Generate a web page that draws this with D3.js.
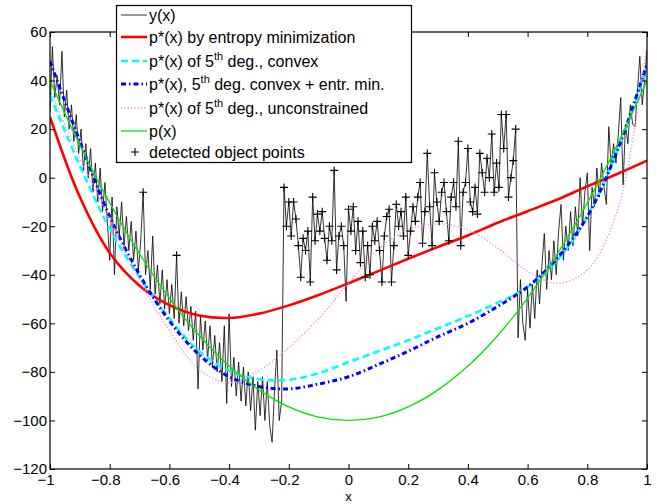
<!DOCTYPE html>
<html lang="en">
<head>
<meta charset="UTF-8">
<title>p*(x) fits of y(x)</title>
<script src="https://d3js.org/d3.v7.min.js"></script>
<style>
  body { margin: 0; background: #fff; }
  svg { display: block; font-family: "Liberation Sans", Arial, Helvetica, sans-serif; }
  .tick text { font-size: 15px; fill: #000; }
  .tick line { stroke: #000; }
</style>
</head>
<body>
<div id="chart"></div>
<script>
// measured signal y(x), sampled every 0.008 from x = -1
const sampleStart = -1;
const sampleStep = 0.008;
const signalY = [
  27, 54, 33, 42, 30, 52, 25, 36, 20, 30,
  15, 26, 10, 20, 3, 14, 0, 12, -6, 6,
  -10, 4, -14, -2, -18, -34, -8, -40, -12, -24,
  -10, -28, -16, -30, -18, -34, -22, -38, -26, -6,
  -40, -30, -46, -24, -48, -36, -52, -38, -54, -42,
  -56, -44, -58, -32, -60, -47, -61, -49, -63, -53,
  -67, -55, -87, -57, -71, -59, -75, -61, -78, -65,
  -80, -68, -84, -61, -93, -56, -86, -74, -90, -76,
  -92, -78, -94, -80, -96, -82, -104, -84, -98, -82,
  -100, -84, -102, -109, -88, -71, -100, -92,
  // object region
  -4, -20, -10, -24, -10, -17, -28, -41, -25, -30,
  -22, -43, -8, -26, -15, -22, -14, -25, -34, -20,
  -26, 3, -38, -24, -20, -28, -51, -13, -22, -12,
  -30, -18, -35, -22, -41, -28, -40, -20, -26, -18,
  -30, -43, -24, -16, -13, -43, -28, -11, -20, -14,
  -24, -8, -32, -22, -12, -18, -8, -2, -27, -14,
  10, -12, -28, 2, -10, -18, -6, -2, -14, -26,
  -8, -2, -12, 15, -28, -6, -2, 12, -10, -14,
  -4, -15, 10, 2, -6, 8, 0, 18, -6, 6,
  -4, 26, 12, 26, -8, 0, 7, 20,
  // right part
  -66, -42, -60, -67, -46, -62, -44, -58, -38, -52,
  -36, -23, -46, -30, -42, -26, -40, -22, -11, -34,
  -20, -30, -14, -28, -12, -24, 0, -20, -6, 2,
  -30, -4, -12, 4, -8, 6, -4, -11, 21, 4,
  14, 6, 18, 33, -3, 22, 14, 30, 22, 21,
  36, 50, 30, 40, 53
];

// detected object points (sample indices)
const detectedFrom = 98;
const detectedTo = 195;
const detectedSkip = [124];
const detectedExtra = [39, 53];

// smooth curves, read at x = -1, -0.9, ..., 1
const curveX = [-1, -0.9, -0.8, -0.7, -0.6, -0.5, -0.4, -0.3, -0.2, -0.1, 0,
                0.1, 0.2, 0.3, 0.4, 0.5, 0.6, 0.7, 0.8, 0.9, 1];
const entropyY = [25, -8, -31, -44.5, -52.5, -56.8, -57.8, -56, -52.6, -48.3, -43.5,
                  -38.5, -33.4, -28.5, -23.8, -18.6, -13.8, -9, -3.6, 1.5, 7];
const convexY = [34, 5, -21, -41, -58, -71.5, -79.5, -83, -83.3, -80.5, -76,
                 -71.5, -67, -62, -57, -51.5, -45, -34, -16, 11, 45];
const convexEntropyY = [48, 15, -16, -40, -59, -73, -82, -86, -87, -85, -82,
                        -77, -71.5, -65.5, -60, -53, -45, -33, -16, 11, 47];
const unconstrainedY = [36, 8, -17, -42, -63, -79, -84.5, -79.5, -70, -58, -43.5,
                        -29.5, -21.5, -19, -21.5, -29, -38.5, -43.5, -38, -14, 55];
const trueY = [40, 13.4, -10.4, -31.4, -49.6, -65, -77.6, -87.4, -94.4, -98.6, -100,
               -98.6, -94.4, -87.4, -77.6, -65, -49.6, -31.4, -10.4, 13.4, 40];

const xTicks = [-1, -0.8, -0.6, -0.4, -0.2, 0, 0.2, 0.4, 0.6, 0.8, 1];
const xTickLabels = ["\u22121", "\u22120.8", "\u22120.6", "\u22120.4", "\u22120.2", "0", "0.2", "0.4", "0.6", "0.8", "1"];
const yTicks = [-120, -100, -80, -60, -40, -20, 0, 20, 40, 60];
const yTickLabels = ["\u2212120", "\u2212100", "\u221280", "\u221260", "\u221240", "\u221220", "0", "20", "40", "60"];

const legendLabels = [
  "y(x)",
  "p*(x) by entropy minimization",
  "p*(x) of 5^th deg., convex",
  "p*(x), 5^th deg. convex + entr. min.",
  "p*(x) of 5^th deg., unconstrained",
  "p(x)",
  "detected object points"
];

const width = 659, height = 504;
const svg = d3.select("#chart").append("svg")
  .attr("width", width)
  .attr("height", height);

const x = d3.scaleLinear().domain([-1, 1]).range([50, 647]);
const y = d3.scaleLinear().domain([-120, 60]).range([469, 32]);

svg.append("defs").append("clipPath").attr("id", "plotArea")
  .append("rect")
  .attr("x", x(-1)).attr("y", y(60))
  .attr("width", x(1) - x(-1)).attr("height", y(-120) - y(60));

// line styles, in the legend order
const styles = [
  { color: "#000", width: 0.8, dash: null },
  { color: "#ff0000", width: 2.6, dash: null },
  { color: "#00ffff", width: 2.6, dash: "7,4" },
  { color: "#0000ff", width: 3, dash: "5,3,1.5,3" },
  { color: "#ff80ff", width: 1.3, dash: "1.3,2" },
  { color: "#00e600", width: 1.3, dash: null },
];

const signal = signalY.map((v, i) => ({ x: sampleStart + i * sampleStep, y: v }));
const curves = [entropyY, convexY, convexEntropyY, unconstrainedY, trueY]
  .map(ys => curveX.map((cx, i) => ({ x: cx, y: ys[i] })));

const plot = svg.append("g").attr("clip-path", "url(#plotArea)");

const straight = d3.line().x(d => x(d.x)).y(d => y(d.y));
const smooth = d3.line().x(d => x(d.x)).y(d => y(d.y)).curve(d3.curveCatmullRom);

plot.append("path")
  .datum(signal)
  .attr("d", straight)
  .attr("fill", "none")
  .attr("stroke", styles[0].color)
  .attr("stroke-width", styles[0].width)
  .attr("stroke-linejoin", "round");

curves.forEach((c, i) => {
  const s = styles[i + 1];
  plot.append("path")
    .datum(c)
    .attr("d", smooth)
    .attr("fill", "none")
    .attr("stroke", s.color)
    .attr("stroke-width", s.width)
    .attr("stroke-dasharray", s.dash);
});

// + markers for the detected points
const detected = [];
for (let i = detectedFrom; i <= detectedTo; i++) {
  if (!detectedSkip.includes(i)) detected.push(signal[i]);
}
detectedExtra.forEach(i => detected.push(signal[i]));

const plusPath = "M-4,0H4M0,-4V4";
plot.selectAll(".det")
  .data(detected)
  .enter()
  .append("path")
  .attr("class", "det")
  .attr("transform", d => `translate(${x(d.x)},${y(d.y)})`)
  .attr("d", plusPath)
  .attr("stroke", "#000")
  .attr("stroke-width", 1.1)
  .attr("fill", "none");

// axes, ticks inside like matlab
svg.append("g")
  .attr("transform", `translate(0,${y(-120)})`)
  .call(d3.axisBottom(x).tickValues(xTicks).tickSize(-5).tickPadding(5.5)
    .tickFormat((d, i) => xTickLabels[i]))
  .call(g => g.select(".domain").remove())
  // matlab centres the digits, the minus sign hangs to the left
  .call(g => g.selectAll(".tick text").attr("dx", d => d < 0 ? -4.5 : 0));

svg.append("g")
  .attr("transform", `translate(0,${y(60)})`)
  .call(d3.axisTop(x).tickValues(xTicks).tickSize(-5).tickFormat(""))
  .call(g => g.select(".domain").remove());

svg.append("g")
  .attr("transform", `translate(${x(-1)},0)`)
  .call(d3.axisLeft(y).tickValues(yTicks).tickSize(-5).tickPadding(3)
    .tickFormat((d, i) => yTickLabels[i]))
  .call(g => g.select(".domain").remove());

svg.append("g")
  .attr("transform", `translate(${x(1)},0)`)
  .call(d3.axisRight(y).tickValues(yTicks).tickSize(-5).tickFormat(""))
  .call(g => g.select(".domain").remove());

svg.append("rect")
  .attr("x", x(-1)).attr("y", y(60))
  .attr("width", x(1) - x(-1)).attr("height", y(-120) - y(60))
  .attr("fill", "none")
  .attr("stroke", "#000")
  .attr("stroke-width", 1.2);

svg.append("text")
  .attr("x", x(0))
  .attr("y", 500.5)
  .attr("text-anchor", "middle")
  .attr("font-size", 13)
  .text("x");

// legend
const rowY = [15, 37, 61, 84, 108, 131, 152];
const legend = svg.append("g");
legend.append("rect")
  .attr("x", 116.5).attr("y", 5.5)
  .attr("width", 295).attr("height", 157)
  .attr("fill", "#fff")
  .attr("stroke", "#000")
  .attr("stroke-width", 1.2);

legendLabels.forEach((label, i) => {
  const ry = rowY[i];
  if (i < styles.length) {
    const s = styles[i];
    legend.append("line")
      .attr("x1", 121).attr("x2", 147)
      .attr("y1", ry).attr("y2", ry)
      .attr("stroke", s.color)
      .attr("stroke-width", s.width)
      .attr("stroke-dasharray", s.dash);
  } else {
    legend.append("path")
      .attr("transform", `translate(135,${ry})`)
      .attr("d", plusPath)
      .attr("stroke", "#000")
      .attr("stroke-width", 1.1);
  }
  const t = legend.append("text")
    .attr("x", 149)
    .attr("y", ry + 5.5)
    .attr("font-size", 16);
  const parts = label.split("^th");
  if (parts.length === 1) {
    t.text(label);
  } else {
    t.append("tspan").text(parts[0]);
    t.append("tspan").attr("dy", -7).attr("font-size", 11).text("th");
    t.append("tspan").attr("dy", 7).text(parts[1]);
  }
});
</script>
</body>
</html>
